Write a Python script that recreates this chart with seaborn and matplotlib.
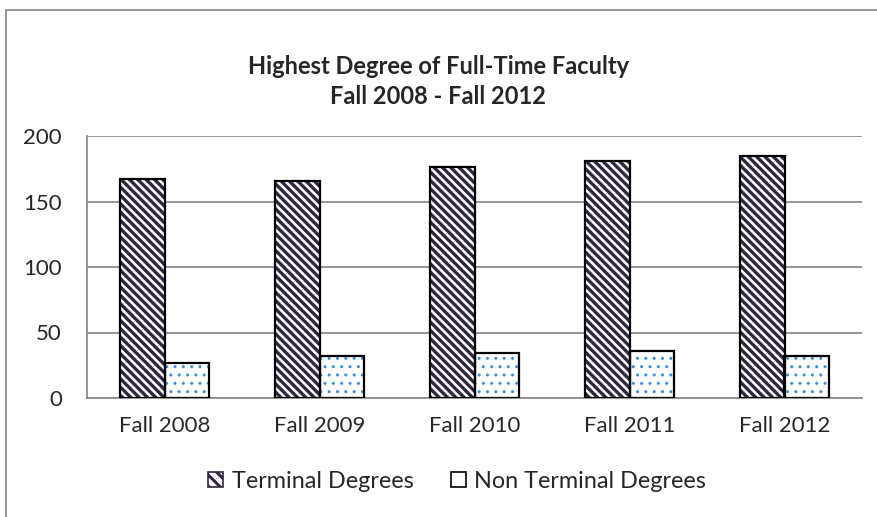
import matplotlib.pyplot as plt
import pandas as pd
import seaborn as sns
from matplotlib.patches import Rectangle

# Data
terms = ['Fall 2008', 'Fall 2009', 'Fall 2010', 'Fall 2011', 'Fall 2012']
terminal = [167, 166, 176, 181, 185]
non_terminal = [27, 32, 34, 36, 32]
series = ['Terminal Degrees', 'Non Terminal Degrees']

df = pd.DataFrame({
    'term': terms * 2,
    'count': terminal + non_terminal,
    'kind': [series[0]] * len(terms) + [series[1]] * len(terms),
})

sns.set_style('white')
plt.rcParams['font.family'] = ['Lato', 'DejaVu Sans']
plt.rcParams['hatch.linewidth'] = 2.2

fig = plt.figure(figsize=(8.77, 5.17), dpi=100)
ax = fig.add_axes([87 / 877, 1 - 398 / 517, 775 / 877, 262 / 517])

sns.barplot(data=df, x='term', y='count', hue='kind', ax=ax, width=0.58,
            palette=['white', 'white'], legend=False, saturation=1)

# hatch pattern, hatch colour, hatch line width
styles = {series[0]: ('\\\\\\\\', '#2f2640', 2.4), series[1]: ('..', '#3a8fd8', 1.0)}
for container, name in zip(ax.containers, series):
    hatch, hcol, hlw = styles[name]
    for p in container:
        # hatch drawn with edge colour, then black outline over it
        p.set_hatch(hatch)
        p.set_edgecolor(hcol)
        p.set_linewidth(0)
        if hasattr(p, 'set_hatch_linewidth'):
            p.set_hatch_linewidth(hlw)
        ax.add_patch(Rectangle(p.get_xy(), p.get_width(), p.get_height(),
                               fill=False, edgecolor='black', linewidth=1.6, zorder=3))

ax.set_ylim(0, 200)
ax.set_xlim(-0.5, len(terms) - 0.5)
ax.set_yticks([0, 50, 100, 150, 200])
ax.yaxis.grid(True, color='#8c8c8c', linewidth=1.3)
ax.set_axisbelow(True)
for s in ['top', 'right']:
    ax.spines[s].set_visible(False)
for s in ['bottom', 'left']:
    ax.spines[s].set_color('#8c8c8c')
    ax.spines[s].set_linewidth(1.3)
ax.set_xlabel('')
ax.set_ylabel('')
ax.tick_params(axis='both', length=0, labelsize=16)
ax.tick_params(axis='y', pad=18)
ax.tick_params(axis='x', pad=13)

fig.text(0.5, 1 - 66 / 517, 'Highest Degree of Full-Time Faculty', ha='center', va='center',
         fontsize=17, fontweight='bold')
fig.text(0.5, 1 - 97 / 517, 'Fall 2008 - Fall 2012', ha='center', va='center',
         fontsize=17, fontweight='bold')

handles = [Rectangle((0, 0), 1, 1, facecolor='white', edgecolor='#2f2640', hatch='\\\\\\', linewidth=1.2),
           Rectangle((0, 0), 1, 1, facecolor='white', edgecolor='black', linewidth=1.2)]
fig.legend(handles, series, loc='center', bbox_to_anchor=(457 / 877, 1 - 481 / 517), ncol=2,
           frameon=False, fontsize=16.8, handlelength=0.65, handleheight=0.65,
           handletextpad=0.35, columnspacing=1.6)

# chart frame (top and left edges visible)
fig.patches.append(Rectangle((6 / 877, -0.5), 2, 0.5 + 1 - 10 / 517, transform=fig.transFigure,
                             fill=False, edgecolor='#8c8c8c', linewidth=1.3))

fig.savefig('out.png', dpi=100)
